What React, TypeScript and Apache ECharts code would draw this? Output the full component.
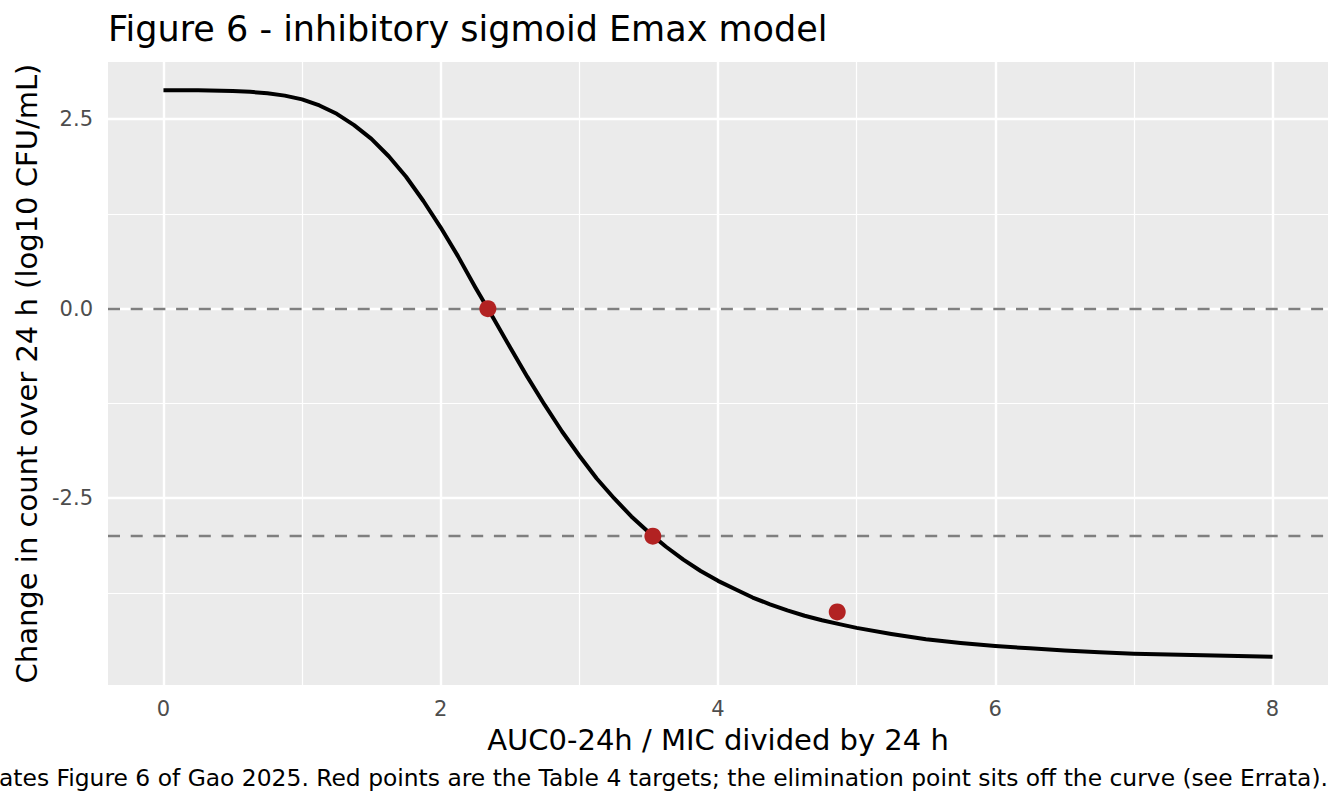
import React, { useEffect, useRef } from "react";
import * as echarts from "echarts";

// Fitted curve
const curveX = [
  0, 0.25, 0.5, 0.625, 0.75, 0.875, 1, 1.125, 1.25, 1.375, 1.5, 1.625, 1.75, 1.875, 2, 2.125, 2.25, 2.375, 2.5, 2.625,
  2.75, 2.875, 3, 3.125, 3.25, 3.375, 3.5, 3.625, 3.75, 3.875, 4, 4.125, 4.25, 4.375, 4.5, 4.625, 4.75, 4.875, 5, 5.25,
  5.5, 5.75, 6, 6.25, 6.5, 6.75, 7, 7.25, 7.5, 7.75, 8,
];
const curveY = [
  2.88, 2.88, 2.87, 2.86, 2.84, 2.81, 2.76, 2.68, 2.57, 2.42, 2.24, 2.01, 1.74, 1.42, 1.07, 0.69, 0.28, -0.11, -0.51,
  -0.9, -1.27, -1.62, -1.94, -2.24, -2.5, -2.74, -2.95, -3.14, -3.31, -3.46, -3.59, -3.7, -3.81, -3.9, -3.98, -4.05,
  -4.11, -4.16, -4.21, -4.29, -4.36, -4.41, -4.45, -4.48, -4.51, -4.53, -4.55, -4.56, -4.57, -4.58, -4.59,
];

// Table 4 target points
const targetX = [2.34, 3.53, 4.86];
const targetY = [0, -3, -4.0];

// Reference (dashed) lines
const refLines = [0, -3];

// Axis breaks
const xMajor = [0, 2, 4, 6, 8];
const xMinor = [1, 3, 5, 7];
const yMajor = [-2.5, 0, 2.5];
const yMinor = [-3.75, -1.25, 1.25];

const titleText = "Figure 6 - inhibitory sigmoid Emax model";
const xTitle = "AUC0-24h / MIC divided by 24 h";
const yTitle = "Change in count over 24 h (log10 CFU/mL)";
const captionText =
  "ates Figure 6 of Gao 2025. Red points are the Table 4 targets; the elimination point sits off the curve (see Errata).";

const FONT = "DejaVu Sans";

export default function App() {
  const ref = useRef<HTMLDivElement>(null);

  useEffect(() => {
    document.body.style.margin = "0";
    document.body.style.overflow = "hidden";
    if (!ref.current) return;
    const chart = echarts.init(ref.current, undefined, { renderer: "svg" });

    const yMinData = Math.min(...curveY, ...targetY);
    const yMaxData = Math.max(...curveY, ...targetY);
    const yPad = (yMaxData - yMinData) * 0.05;
    const xMinData = Math.min(...curveX);
    const xMaxData = Math.max(...curveX);
    const xPad = (xMaxData - xMinData) * 0.05;

    const gridLine = (w: number) => ({ color: "#FFFFFF", width: w, type: "solid" as const });

    chart.setOption({
      animation: false,
      title: {
        text: titleText,
        left: 108,
        top: 11,
        padding: 0,
        textStyle: { fontFamily: FONT, fontSize: 35, fontWeight: "normal", color: "#000000" },
      },
      grid: {
        left: 108,
        right: 16,
        top: 62,
        bottom: 121,
        show: true,
        backgroundColor: "#EBEBEB",
        borderWidth: 0,
      },
      xAxis: {
        type: "value",
        min: xMinData - xPad,
        max: xMaxData + xPad,
        name: xTitle,
        nameLocation: "middle",
        nameGap: 40,
        nameTextStyle: { fontFamily: FONT, fontSize: 29, color: "#000000" },
        axisLine: { show: false },
        splitLine: { show: false },
        axisTick: {
          show: true,
          length: 7,
          customValues: xMajor,
          lineStyle: { color: "#333333", width: 2 },
        },
        axisLabel: {
          customValues: xMajor,
          margin: 13,
          fontFamily: FONT,
          fontSize: 21,
          color: "#4D4D4D",
          formatter: (v: number) => String(v),
        },
      },
      yAxis: {
        type: "value",
        min: yMinData - yPad,
        max: yMaxData + yPad,
        name: yTitle,
        nameLocation: "middle",
        nameRotate: 90,
        nameGap: 65,
        nameTextStyle: { fontFamily: FONT, fontSize: 29, color: "#000000" },
        axisLine: { show: false },
        splitLine: { show: false },
        axisTick: {
          show: true,
          length: 7,
          customValues: yMajor,
          lineStyle: { color: "#333333", width: 2 },
        },
        axisLabel: {
          customValues: yMajor,
          margin: 15,
          fontFamily: FONT,
          fontSize: 21,
          color: "#4D4D4D",
          formatter: (v: number) => v.toFixed(1),
        },
      },
      graphic: [
        {
          type: "text",
          right: 16,
          top: 766,
          style: {
            text: captionText,
            fontFamily: FONT,
            fontSize: 23.4,
            fill: "#000000",
            textAlign: "right",
          },
        },
      ],
      series: [
        {
          name: "gridMinor",
          type: "line",
          data: [],
          silent: true,
          z: 1,
          markLine: {
            silent: true,
            symbol: ["none", "none"],
            label: { show: false },
            emphasis: { disabled: true },
            z: 1,
            lineStyle: gridLine(1.2),
            data: [
              ...xMinor.map((v) => ({ xAxis: v })),
              ...yMinor.map((v) => ({ yAxis: v })),
            ],
          },
        },
        {
          name: "gridMajor",
          type: "line",
          data: [],
          silent: true,
          z: 1,
          markLine: {
            silent: true,
            symbol: ["none", "none"],
            label: { show: false },
            emphasis: { disabled: true },
            z: 1,
            lineStyle: gridLine(2.4),
            data: [
              ...xMajor.map((v) => ({ xAxis: v })),
              ...yMajor.map((v) => ({ yAxis: v })),
            ],
          },
        },
        {
          name: "refLines",
          type: "line",
          data: [],
          silent: true,
          z: 2,
          markLine: {
            silent: true,
            symbol: ["none", "none"],
            label: { show: false },
            emphasis: { disabled: true },
            z: 2,
            lineStyle: { color: "#7F7F7F", width: 2.4, type: [12, 10.7] },
            data: refLines.map((v) => ({ yAxis: v })),
          },
        },
        {
          name: "curve",
          type: "line",
          z: 3,
          data: curveX.map((x, i) => [x, curveY[i]]),
          showSymbol: false,
          symbol: "none",
          smooth: false,
          lineStyle: { color: "#000000", width: 4, cap: "butt", join: "round" },
          silent: true,
        },
        {
          name: "targets",
          type: "scatter",
          z: 4,
          data: targetX.map((x, i) => [x, targetY[i]]),
          symbol: "circle",
          symbolSize: 17,
          itemStyle: { color: "#B22222", opacity: 1 },
          silent: true,
        },
      ],
    });

    return () => {
      chart.dispose();
    };
  }, []);

  return <div ref={ref} style={{ width: 1344, height: 806 }} />;
}
